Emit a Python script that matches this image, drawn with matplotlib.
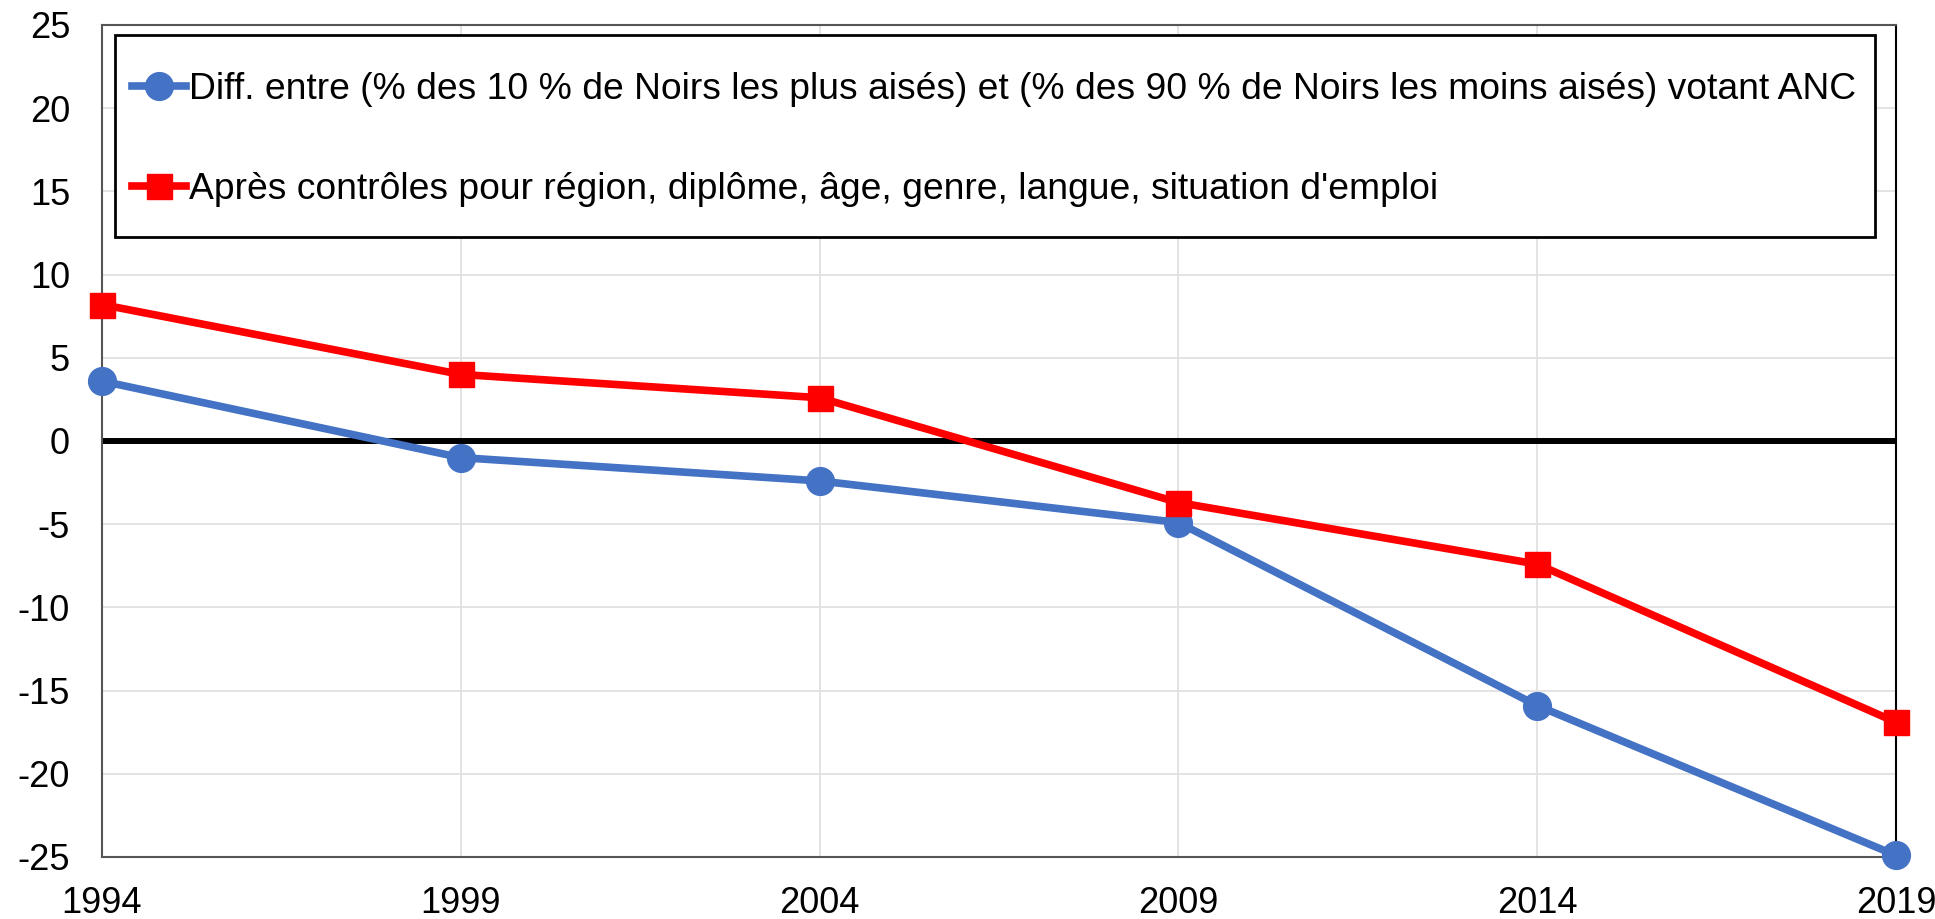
import matplotlib.pyplot as plt
from matplotlib.patches import Rectangle

plt.rcParams['font.family'] = ['Liberation Sans', 'DejaVu Sans']
plt.rcParams['axes.unicode_minus'] = False

years = [1994, 1999, 2004, 2009, 2014, 2019]
diffRaw = [3.6, -1.0, -2.4, -4.9, -15.9, -24.9]
diffControlled = [8.2, 4.0, 2.6, -3.7, -7.4, -16.9]
labelRaw = "Diff. entre (% des 10 % de Noirs les plus aisés) et (% des 90 % de Noirs les moins aisés) votant ANC"
labelControlled = "Après contrôles pour région, diplôme, âge, genre, langue, situation d'emploi"
yTicks = list(range(-25, 30, 5))

fig = plt.figure(figsize=(19.35, 9.19), dpi=100)
ax = fig.add_axes([0.0527, 0.0675, 0.9271, 0.9053])

ax.grid(True, color='#e0e0e0', linewidth=1.3)
ax.set_axisbelow(True)
ax.axhline(0, color='black', linewidth=4.3, zorder=2)

ax.plot(years, diffRaw, color='#4472c4', linewidth=5.5, marker='o', markersize=20,
        label=labelRaw, zorder=3, clip_on=False)
ax.plot(years, diffControlled, color='#ff0000', linewidth=5.5, marker='s', markersize=18,
        label=labelControlled, zorder=4, clip_on=False)

ax.set_xlim(years[0], years[-1])
ax.set_ylim(-25, 25)
ax.set_xticks(years)
ax.set_yticks(yTicks)
ax.tick_params(axis='both', length=0, labelsize=26)
ax.tick_params(axis='x', pad=21)
ax.tick_params(axis='y', pad=23)
for side in ['left', 'bottom', 'top']:
    ax.spines[side].set_color('#555555')
    ax.spines[side].set_linewidth(1.5)
ax.spines['right'].set_color('black')
ax.spines['right'].set_linewidth(1.5)

# legend box drawn separately so the inner margins can be taller than wide
legBox = (0.0072, 0.745, 0.981, 0.2435)
ax.add_patch(Rectangle(legBox[:2], legBox[2], legBox[3], transform=ax.transAxes,
                       facecolor='white', edgecolor='black', linewidth=2, zorder=5))
leg = ax.legend(loc='center left', bbox_to_anchor=(legBox[0], legBox[1] - 0.004, legBox[2], legBox[3]),
                borderaxespad=0, fontsize=26.8, handlelength=1.45, handletextpad=0.1,
                labelspacing=1.75, borderpad=0.45, frameon=False)
leg.set_zorder(6)

fig.savefig('out.png', dpi=100)
